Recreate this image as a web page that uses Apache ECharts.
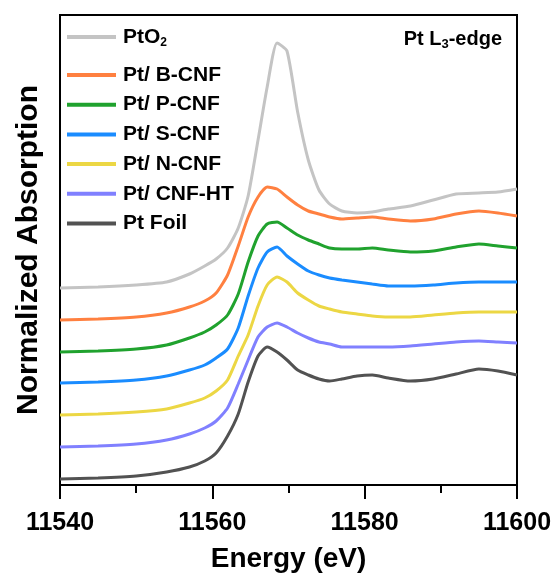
<!DOCTYPE html>
<html>
<head>
<meta charset="utf-8">
<script src="https://cdn.jsdelivr.net/npm/echarts@6/dist/echarts.min.js"></script>
<style>
  html, body { margin: 0; padding: 0; background: #fff; }
  #chart { width: 555px; height: 575px; }
</style>
</head>
<body>
<div id="chart"></div>
<script>
// energy grid (eV)
var energy = [11540, 11545, 11550, 11554, 11557, 11559, 11560.5, 11562, 11563.4, 11564.7,
  11566, 11567.2, 11568.5, 11569.8, 11571.2, 11572.6, 11574, 11575.4, 11577, 11579,
  11581, 11583.1, 11586, 11589, 11592, 11595, 11597.5, 11600];

// normalized absorption, already stacked with offsets
var ptO2 = [1.97, 1.98, 2.00, 2.03, 2.11, 2.19, 2.26, 2.37, 2.57, 2.89, 3.45, 3.98, 4.42, 4.34,
  3.73, 3.25, 2.95, 2.81, 2.74, 2.72, 2.73, 2.76, 2.79, 2.85, 2.91, 2.92, 2.93, 2.96];
var bCNF = [1.65, 1.66, 1.68, 1.72, 1.78, 1.84, 1.92, 2.10, 2.39, 2.68, 2.88, 2.98, 2.96, 2.88,
  2.80, 2.74, 2.71, 2.68, 2.66, 2.67, 2.68, 2.66, 2.64, 2.66, 2.71, 2.74, 2.72, 2.69];
var pCNF = [1.33, 1.34, 1.36, 1.40, 1.47, 1.53, 1.60, 1.70, 1.91, 2.23, 2.49, 2.61, 2.63, 2.57,
  2.50, 2.45, 2.41, 2.37, 2.36, 2.36, 2.37, 2.35, 2.33, 2.34, 2.38, 2.41, 2.39, 2.37];
var sCNF = [1.02, 1.03, 1.05, 1.09, 1.15, 1.20, 1.27, 1.36, 1.57, 1.89, 2.17, 2.33, 2.38, 2.29,
  2.21, 2.14, 2.10, 2.07, 2.05, 2.03, 2.01, 1.99, 1.99, 2.00, 2.02, 2.03, 2.03, 2.03];
var nCNF = [0.70, 0.71, 0.73, 0.76, 0.82, 0.87, 0.94, 1.05, 1.29, 1.50, 1.79, 2.00, 2.08, 2.03,
  1.92, 1.85, 1.79, 1.76, 1.73, 1.71, 1.69, 1.68, 1.68, 1.70, 1.72, 1.73, 1.73, 1.73];
var cnfHT = [0.38, 0.39, 0.41, 0.45, 0.51, 0.57, 0.64, 0.77, 1.01, 1.25, 1.48, 1.58, 1.62, 1.58,
  1.52, 1.47, 1.43, 1.41, 1.38, 1.38, 1.38, 1.38, 1.39, 1.41, 1.43, 1.44, 1.43, 1.42];
var ptFoil = [0.06, 0.07, 0.09, 0.13, 0.18, 0.24, 0.32, 0.49, 0.71, 1.03, 1.29, 1.38, 1.33, 1.25,
  1.15, 1.10, 1.06, 1.04, 1.06, 1.09, 1.10, 1.07, 1.04, 1.06, 1.11, 1.16, 1.14, 1.10];

var names = ['PtO2', 'Pt/ B-CNF', 'Pt/ P-CNF', 'Pt/ S-CNF', 'Pt/ N-CNF', 'Pt/ CNF-HT', 'Pt Foil'];
var colors = ['#c4c4c4', '#ff8040', '#20a22e', '#1a8cff', '#ecd744', '#8080ff', '#525252'];
var values = [ptO2, bCNF, pCNF, sCNF, nCNF, cnfHT, ptFoil];
var xTicks = [11540, 11560, 11580, 11600];

var font = 'Arial, "Liberation Sans", sans-serif';

function pairs(ys) {
  return energy.map(function (e, i) { return [e, ys[i]]; });
}

var series = names.map(function (n, k) {
  return {
    name: n,
    type: 'line',
    data: pairs(values[k]),
    smooth: 0.2,
    symbol: 'none',
    lineStyle: { color: colors[k], width: 3 },
    itemStyle: { color: colors[k] }
  };
});

var legendText = {
  fontFamily: font, fontWeight: 'bold', fontSize: 21, color: '#000', lineHeight: 24,
  padding: [0, 0, 0, 2],
  rich: { sub: { fontFamily: font, fontWeight: 'bold', fontSize: 12, color: '#000', verticalAlign: 'bottom', padding: [14, 0, 0, 0] } }
};

function legendBox(data, top) {
  return {
    orient: 'vertical',
    left: 67,
    top: top,
    padding: 0,
    itemWidth: 49,
    itemHeight: 4,
    itemGap: 5.7,
    icon: 'rect',
    data: data,
    formatter: function (n) { return n === 'PtO2' ? 'PtO{sub|2}' : n; },
    textStyle: legendText
  };
}

var chart = echarts.init(document.getElementById('chart'));
chart.setOption({
  animation: false,
  backgroundColor: '#fff',
  title: {
    text: 'Pt L{sub|3}-edge',
    right: 53,
    top: 27,
    padding: 0,
    textStyle: {
      fontFamily: font, fontWeight: 'bold', fontSize: 20, color: '#000',
      rich: { sub: { fontFamily: font, fontWeight: 'bold', fontSize: 13, color: '#000', verticalAlign: 'bottom', padding: [11, 0, 0, 0] } }
    }
  },
  legend: [
    legendBox(names.slice(0, 1), 25),
    legendBox(names.slice(1), 63)
  ],
  grid: {
    left: 60, right: 38, top: 15, bottom: 90,
    containLabel: false,
    outerBoundsMode: 'none',
    show: true, borderColor: '#000', borderWidth: 2, backgroundColor: 'transparent'
  },
  xAxis: {
    type: 'value',
    min: xTicks[0], max: xTicks[xTicks.length - 1], interval: xTicks[1] - xTicks[0],
    name: 'Energy (eV)',
    nameLocation: 'middle',
    nameGap: 60,
    nameTextStyle: { fontFamily: font, fontWeight: 'bold', fontSize: 28, color: '#000' },
    axisLine: { show: true, lineStyle: { color: '#000', width: 2 } },
    axisTick: { show: true, inside: false, length: 14, lineStyle: { color: '#000', width: 2 } },
    minorTick: { show: true, splitNumber: 2, length: 8, lineStyle: { color: '#000', width: 2 } },
    axisLabel: {
      margin: 26, fontFamily: font, fontWeight: 'bold', fontSize: 25, color: '#000',
      formatter: function (v) { return String(v); }
    },
    splitLine: { show: false }
  },
  yAxis: {
    type: 'value',
    min: 0, max: 4.7,
    name: 'Normalized Absorption',
    nameLocation: 'middle',
    nameGap: 16,
    nameTextStyle: { fontFamily: font, fontWeight: 'bold', fontSize: 30, color: '#000' },
    axisLine: { show: true, lineStyle: { color: '#000', width: 2 } },
    axisTick: { show: false },
    axisLabel: { show: false },
    splitLine: { show: false }
  },
  series: series
});
</script>
</body>
</html>
